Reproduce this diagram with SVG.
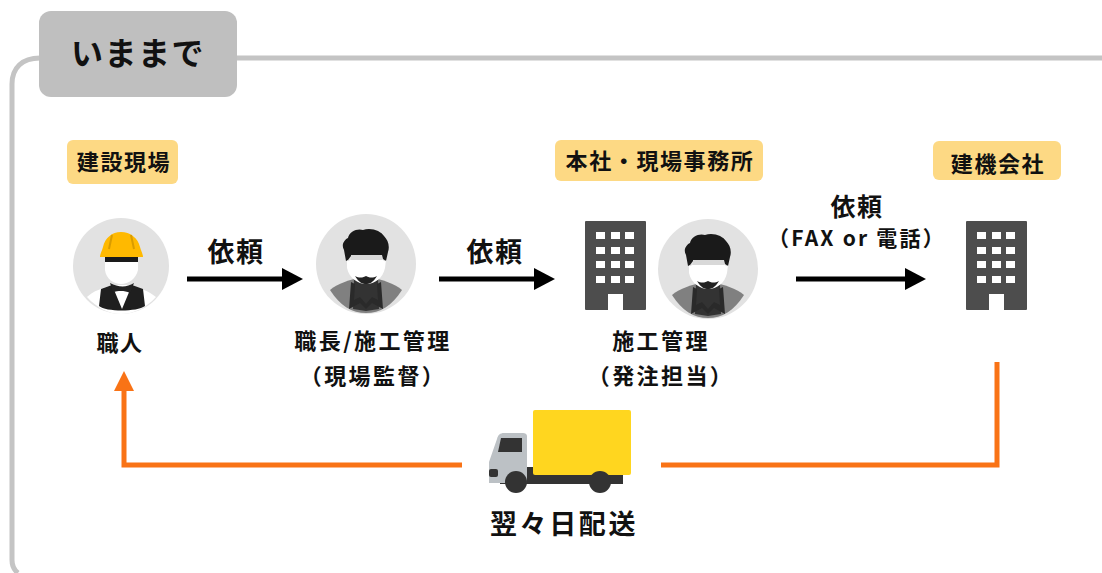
<svg xmlns="http://www.w3.org/2000/svg" xmlns:xlink="http://www.w3.org/1999/xlink" width="1102" height="573" viewBox="0 0 1102 573">
<style>
text{font-family:"Noto Sans CJK JP","Noto Sans",sans-serif;font-weight:700;fill:#111;text-anchor:middle;letter-spacing:1.6px}
.tag{fill:#fdd984}
.bl{stroke:#000;stroke-width:5;fill:none}
.or{stroke:#f97316;stroke-width:5;fill:none}
.bd{fill:#4d4d4d}
.wn{fill:#fff}
</style>
<defs>
<g id="building">
<rect x="0" y="0" width="61" height="89" rx="1" class="bd"/>
<g class="wn">
<rect x="11" y="11" width="9" height="7"/><rect x="26" y="11" width="9" height="7"/><rect x="40" y="11" width="9" height="7"/>
<rect x="11" y="26" width="9" height="7"/><rect x="26" y="26" width="9" height="7"/><rect x="40" y="26" width="9" height="7"/>
<rect x="11" y="40" width="9" height="7"/><rect x="26" y="40" width="9" height="7"/><rect x="40" y="40" width="9" height="7"/>
<rect x="11" y="55" width="9" height="7"/><rect x="26" y="55" width="9" height="7"/><rect x="40" y="55" width="9" height="7"/>
<rect x="23" y="73" width="15" height="16"/>
</g>
</g>
<g id="manager">
<circle cx="0" cy="0" r="50" fill="#e2e2e2"/>
<path d="M-36 26C-28 19-16 16-8 14L8 14C16 16 28 19 36 26C26 42 14 49 0 49C-14 49-26 42-36 26Z" fill="#808080"/>
<path d="M-12 15H12L13 45L0 47L-13 45Z" fill="#333"/>
<path d="M-15 18L-17 45L-6 39L0 45L6 39L17 45L15 18L11 20L12 36L6 33L0 40L-6 33L-12 36L-11 20Z" fill="#2a2a2a"/>
<path d="M-22-14C-25-19-22-24-18-26C-17-33-8-36-3-34C5-37 15-33 18-28C22-24 24-18 22-12L20-3L17-5L16-9L-15-8L-18-4L-20-3Z" fill="#1a1a1a"/>
<rect x="-15" y="-9" width="31" height="6" fill="#d8d8d8"/>
<path d="M-19-4C-18-2-17-3-16-4H17C18-3 19-2 20-4L19 4C17 14 9 20 0 20C-8 20-17 14-19 4Z" fill="#fff"/>
<path d="M-11 12C-6 15-2 13 0 12C2 13 6 15 11 12C7 19 3 20 0 20C-3 20-7 19-11 12Z" fill="#222"/>
</g>
</defs>

<g id="frame">
<path d="M1102 58H40C22 58 12 68 12 84V560C12 566 14 570 18 573" fill="none" stroke="#c4c4c4" stroke-width="5"/>
</g>
<g id="title">
<rect x="39" y="11" width="198" height="86" rx="12" fill="#bfbfbf"/>
<text x="138" y="65" font-size="32" style="letter-spacing:1.5px">いままで</text>
</g>

<g id="connectors">
<path class="bl" d="M187 279H285"/><path d="M282 268L303 279L282 290Z"/>
<path class="bl" d="M439 279H537"/><path d="M534 268L555 279L534 290Z"/>
<path class="bl" d="M796 279H907"/><path d="M905 268L926 279L905 290Z"/>
<path class="or" d="M462 465H124V388"/><path d="M114 391L124 371L134 391Z" fill="#f97316"/>
<path class="or" d="M661 465H997V362"/>
</g>

<g id="label-irai-1"><text x="236" y="262" font-size="27">依頼</text></g>
<g id="label-irai-2"><text x="495" y="262" font-size="27">依頼</text></g>
<g id="label-irai-3"><text x="857" y="216" font-size="25">依頼</text><text x="857" y="246" font-size="21" style="letter-spacing:2.2px">（FAX or 電話）</text></g>

<g id="tag-site"><rect x="67" y="140" width="111" height="44" rx="6" class="tag"/><text x="124" y="170" font-size="22">建設現場</text></g>
<g id="tag-office"><rect x="555" y="140" width="208" height="41" rx="6" class="tag"/><text x="660" y="169" font-size="22">本社・現場事務所</text></g>
<g id="tag-rental"><rect x="933" y="141" width="128" height="39" rx="6" class="tag"/><text x="998" y="172" font-size="22">建機会社</text></g>

<g id="node-worker">
<circle cx="121" cy="266" r="48" fill="#e2e2e2"/>
<path d="M87 297C93 291 103 288 112 285L130 285C139 288 149 291 156 297C146 308 133 314 121 314C109 314 97 308 87 297Z" fill="#fff"/>
<path d="M101 289L112 285L122 309L132 285L143 289L145 306C137 312 106 312 99 306Z" fill="#1f1f1f"/>
<path d="M110 283C118 287 126 288 134 283L130 293C124 290 118 291 113 292Z" fill="#222"/>
<path d="M105 258H138V270C136 279 128 284 121 284C114 284 106 279 105 270Z" fill="#fff"/>
<rect x="105" y="255" width="33" height="7" fill="#1a1a1a"/>
<path d="M100 257C100 254 102 251 103 247C105 238 112 232 121 232C130 232 138 238 140 247C141 251 143 254 143 257Z" fill="#ffb900"/>
<path d="M112 235L109 249M131 235L134 249" stroke="#d99c00" stroke-width="2" fill="none"/>
<text x="120" y="351" font-size="22">職人</text>
</g>

<g id="node-foreman">
<use xlink:href="#manager" href="#manager" x="366" y="264"/>
<text x="373" y="349" font-size="22" style="letter-spacing:2.4px">職長/施工管理</text>
<text x="373" y="384" font-size="22" style="letter-spacing:2.4px">（現場監督）</text>
</g>

<g id="node-office">
<use xlink:href="#building" href="#building" x="585" y="221"/>
<use xlink:href="#manager" href="#manager" x="708" y="269"/>
<text x="661" y="349" font-size="22" style="letter-spacing:2.4px">施工管理</text>
<text x="661" y="384" font-size="22" style="letter-spacing:2.4px">（発注担当）</text>
</g>

<g id="node-rental">
<use xlink:href="#building" href="#building" x="966" y="221"/>
</g>

<g id="node-truck">
<rect x="500" y="467" width="123" height="17" fill="#333"/>
<path d="M489 483V462L497 439C498 435 500 433 504 433H523C525 433 527 434 527 436V483Z" fill="#bcc1c5"/>
<path d="M501 438H522V452H498Z" fill="#333"/>
<rect x="489" y="469" width="9" height="8" rx="2" fill="#333"/>
<rect x="533" y="410" width="98" height="65" rx="2" fill="#ffd61f"/>
<circle cx="516" cy="482" r="11" fill="#333"/>
<circle cx="600" cy="482" r="11" fill="#333"/>
<text x="564" y="534" font-size="27" style="letter-spacing:2.6px">翌々日配送</text>
</g>
</svg>
